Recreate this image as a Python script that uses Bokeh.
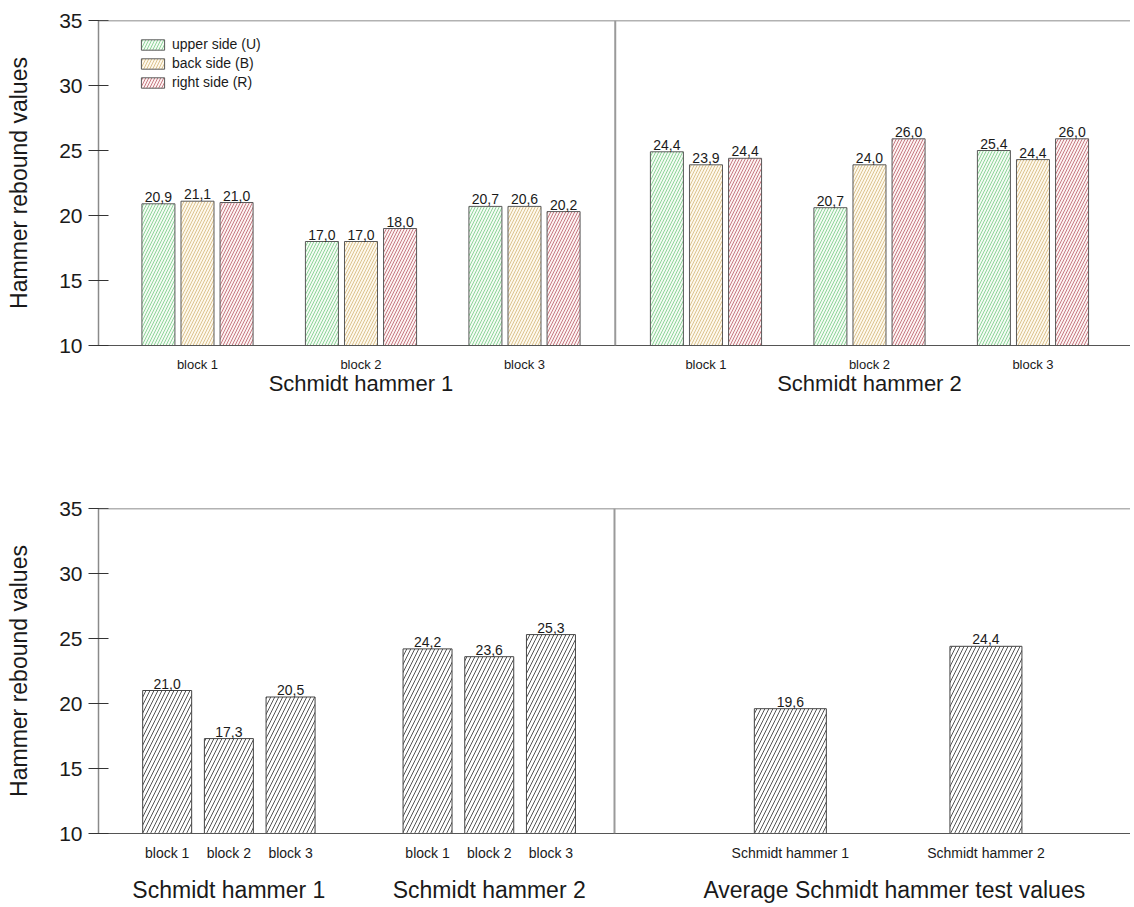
from bokeh.plotting import figure
from bokeh.models import (Range1d, FixedTicker, LinearAxis, Span, Legend, LegendItem,
                          ColumnDataSource)
from bokeh.layouts import column
from bokeh.core.properties import value
from bokeh.embed import file_html
from bokeh.resources import INLINE

# ---------------- data ----------------
blocks = ["block 1", "block 2", "block 3"]
hammers = ["Schmidt hammer 1", "Schmidt hammer 2"]
sides = ["upper side (U)", "back side (B)", "right side (R)"]

# top chart: bar heights as drawn (hammer 1 blocks 1-3, hammer 2 blocks 1-3)
upper_vals = [20.9, 18.0, 20.7, 24.9, 20.6, 25.0]
back_vals = [21.1, 18.0, 20.7, 23.9, 23.9, 24.3]
right_vals = [21.0, 19.0, 20.3, 24.4, 25.9, 25.9]
# printed value labels
upper_lbl = ["20,9", "17,0", "20,7", "24,4", "20,7", "25,4"]
back_lbl = ["21,1", "17,0", "20,6", "23,9", "24,0", "24,4"]
right_lbl = ["21,0", "18,0", "20,2", "24,4", "26,0", "26,0"]

# bottom chart
h1_means = [21.0, 17.3, 20.5]
h2_means = [24.2, 23.6, 25.3]
avg_vals = [19.6, 24.4]
avg_title = "Average Schmidt hammer test values"

y_ticks = [10, 15, 20, 25, 30, 35]
y_title = "Hammer rebound values"

FONT = "Liberation Sans"
W = 1130
LEFT = 98


def fmt(v):
    return f"{v:.1f}".replace(".", ",")


def base_fig(height, border_top, border_bottom, xr, block_size):
    p = figure(width=W, height=height, output_backend="svg", toolbar_location=None,
               x_range=xr, y_range=Range1d(10, 35),
               min_border_left=LEFT, min_border_right=0,
               min_border_top=border_top, min_border_bottom=border_bottom,
               outline_line_color=None, background_fill_color="white",
               border_fill_color="white")
    p.xgrid.visible = False
    p.ygrid.visible = False
    ya = p.yaxis[0]
    ya.ticker = FixedTicker(ticks=y_ticks)
    ya.axis_line_color = "#8a8a8a"
    ya.axis_line_width = 1.5
    ya.major_tick_line_color = "#333333"
    ya.major_tick_out = 10
    ya.major_tick_in = 10
    ya.minor_tick_line_color = None
    ya.major_label_text_font = FONT
    ya.major_label_text_font_size = "21px"
    ya.major_label_text_color = "#1a1a1a"
    ya.major_label_standoff = 6
    ya.axis_label = y_title
    ya.axis_label_text_font = FONT
    ya.axis_label_text_font_size = "23px"
    ya.axis_label_text_font_style = "normal"
    ya.axis_label_text_color = "#1a1a1a"
    ya.axis_label_standoff = 24
    xa = p.xaxis[0]
    xa.axis_line_color = "#555555"
    xa.axis_line_width = 1.2
    xa.major_tick_line_color = None
    xa.minor_tick_line_color = None
    xa.major_label_text_font = FONT
    xa.major_label_text_font_size = block_size
    xa.major_label_text_color = "#1a1a1a"
    xa.major_label_standoff = 5
    p.add_layout(Span(location=35, dimension="width", line_color="#666666", line_width=1.5))
    return p


def group_axis(p, ticks, labels, size, standoff):
    ax = LinearAxis(ticker=FixedTicker(ticks=ticks),
                    major_label_overrides={t: l for t, l in zip(ticks, labels)})
    ax.axis_line_color = None
    ax.major_tick_line_color = None
    ax.minor_tick_line_color = None
    ax.major_label_text_font = FONT
    ax.major_label_text_font_size = size
    ax.major_label_text_color = "#1a1a1a"
    ax.major_label_standoff = standoff
    p.add_layout(ax, "below")


# ---------------- top chart ----------------
# x units: 100 per block, hammer-2 group shifted by an extra gap
PITCH = 100
GAP_TOP = 11
top_x = [PITCH * (i + 1) for i in range(3)] + [PITCH * (i + 4) + GAP_TOP for i in range(3)]
p1 = base_fig(440, 20, 95, Range1d(39.45, 39.45 + (W - LEFT) / 1.635), "13px")
p1.xaxis[0].ticker = FixedTicker(ticks=top_x)
p1.xaxis[0].major_label_overrides = {t: blocks[i % 3] for i, t in enumerate(top_x)}

bw = 20.2
off = 23.9
series = [
    (upper_vals, upper_lbl, "#f3fbf3", "#8fd49a", sides[0]),
    (back_vals, back_lbl, "#fdf8ec", "#dcc38f", sides[1]),
    (right_vals, right_lbl, "#fcf2f2", "#c77a82", sides[2]),
]
items = []
for k, (vals, lbls, fill, hatch, name) in enumerate(series):
    xs = [x + (k - 1) * off for x in top_x]
    src = ColumnDataSource(dict(x=xs, top=vals, lbl=lbls))
    r = p1.vbar(x="x", top="top", bottom=10, width=bw, source=src,
                fill_color=fill, line_color="#5a5a5a", line_width=1,
                hatch_pattern="/", hatch_color=hatch, hatch_scale=6, hatch_weight=1)
    p1.text(x="x", y="top", text="lbl", source=src, text_align="center",
            text_baseline="bottom", y_offset=-2, text_font=value(FONT),
            text_font_size="14px", text_color="#1a1a1a")
    items.append(LegendItem(label=name, renderers=[r]))

legend = Legend(items=items, location=(40, 255), orientation="vertical",
                glyph_width=29, glyph_height=13, label_height=14, spacing=3,
                padding=0, margin=0, border_line_color=None,
                background_fill_alpha=0, label_text_font=FONT,
                label_text_font_size="14px", label_standoff=5,
                label_text_color="#1a1a1a")
p1.add_layout(legend, "center")

p1.add_layout(Span(location=(top_x[2] + top_x[3]) / 2, dimension="height",
                   line_color="#9a9a9a", line_width=2))
group_axis(p1, [top_x[1], top_x[4]], hammers, "22px", -10)

# ---------------- bottom chart ----------------
GAP_BOT = 222
AVG_START = 1110
AVG_PITCH = 317
bot_x1 = [PITCH * (i + 1) for i in range(3)]
bot_x2 = [PITCH * (i + 1) + GAP_BOT + PITCH * 2 for i in range(3)]
avg_x = [AVG_START + AVG_PITCH * i for i in range(2)]
p2 = base_fig(465, 68, 72, Range1d(-11.3, -11.3 + (W - LEFT) / 0.617), "14px")
all_bx = bot_x1 + bot_x2
p2.xaxis[0].ticker = FixedTicker(ticks=all_bx + avg_x)
ov = {t: blocks[i % 3] for i, t in enumerate(all_bx)}
ov.update({t: hammers[i] for i, t in enumerate(avg_x)})
p2.xaxis[0].major_label_overrides = ov

bsrc = ColumnDataSource(dict(x=all_bx, top=h1_means + h2_means,
                             lbl=[fmt(v) for v in h1_means + h2_means]))
p2.vbar(x="x", top="top", bottom=10, width=79.4, source=bsrc,
        fill_color="white", line_color="#444444", line_width=1,
        hatch_pattern="/", hatch_color="#555555", hatch_scale=8, hatch_weight=1)
p2.text(x="x", y="top", text="lbl", source=bsrc, text_align="center",
        text_baseline="bottom", y_offset=-2, text_font=value(FONT),
        text_font_size="14px", text_color="#1a1a1a")

asrc = ColumnDataSource(dict(x=avg_x, top=avg_vals, lbl=[fmt(v) for v in avg_vals]))
p2.vbar(x="x", top="top", bottom=10, width=116.7, source=asrc,
        fill_color="white", line_color="#444444", line_width=1,
        hatch_pattern="/", hatch_color="#555555", hatch_scale=8, hatch_weight=1)
p2.text(x="x", y="top", text="lbl", source=asrc, text_align="center",
        text_baseline="bottom", y_offset=-2, text_font=value(FONT),
        text_font_size="14px", text_color="#1a1a1a")

p2.add_layout(Span(location=(bot_x2[2] + avg_x[0]) / 2 - 91, dimension="height",
                   line_color="#9a9a9a", line_width=2))
mid_avg = (avg_x[0] + avg_x[1]) / 2 + 10
group_axis(p2, [bot_x1[1], bot_x2[1], mid_avg], hammers + [avg_title], "23px", 7)

layout = column(p1, p2, spacing=0)
open("out.html", "w").write(file_html(layout, INLINE))
